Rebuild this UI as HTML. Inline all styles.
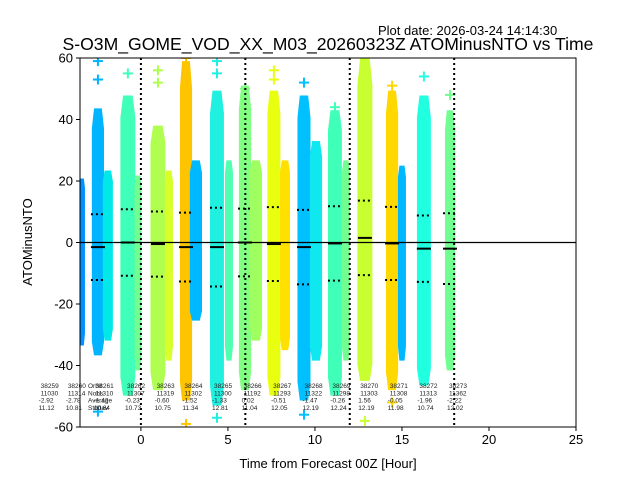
<!DOCTYPE html>
<html><head><meta charset="utf-8"><style>
body{margin:0;background:#fff}
svg{display:block;font-family:"Liberation Sans","DejaVu Sans",sans-serif}
</style></head><body>
<svg id="chart" width="640" height="480" viewBox="0 0 640 480" xmlns="http://www.w3.org/2000/svg">
<defs><clipPath id="plotclip"><rect x="80" y="58" width="496" height="369"/></clipPath></defs>
<rect x="0" y="0" width="640" height="480" fill="#fff"/>
<text x="378" y="35" font-size="13">Plot date: 2026-03-24 14:14:30</text>
<text x="328" y="50" font-size="17.6" text-anchor="middle">S-O3M_GOME_VOD_XX_M03_20260323Z ATOMinusNTO vs Time</text>
<g id="plot" clip-path="url(#plotclip)"></g>
<g id="axes"></g>
<text transform="translate(32,242) rotate(-90)" font-size="13" text-anchor="middle">ATOMinusNTO</text>
<text x="328" y="468" font-size="13" text-anchor="middle">Time from Forecast 00Z [Hour]</text>
</svg>
<script>
const colHour=[-3.39,-2.47,-1.9,-0.75,-0.17,0.98,1.61,2.59,3.16,4.37,5.06,5.98,6.61,7.64,8.28,9.37,10.06,11.15,11.78,12.87,14.43,15.0,16.26,17.76];
const colWidth=[0.35,0.7,0.58,0.86,0.4,0.86,0.46,0.7,0.7,0.8,0.46,0.7,0.7,0.75,0.58,0.75,0.7,0.8,0.46,0.86,0.7,0.46,0.8,0.58];
const colTop=[20.8,43.6,23.4,47.8,21.8,38,23.4,59,26.7,49.4,26.7,51,26.7,49.4,26.7,47.8,33,43,26.7,60,49.4,25,47.8,43];
const colBot=[-33.5,-36.7,-31.9,-49.8,-41.6,-48,-38.4,-51.4,-25.4,-53,-38.4,-48,-31.9,-49.8,-35,-51.4,-38.4,-49.8,-38.4,-45,-48,-38.4,-46.5,-41.6];
const colColor=["#0090ff","#00b4ff","#00e8e8","#40ffb8","#70ff90","#b0ff50","#d8ff28","#ffc400","#00b8ff","#20f0e0","#50ffb0","#80ff80","#a0ff60","#e8ff10","#ffe000","#00c0ff","#10e8f0","#40ffb8","#70ff90","#c8ff30","#ffd800","#00b8ff","#20ffe0","#70ff90"];
const statHour=[-2.47,-0.75,0.98,2.59,4.37,5.98,7.64,9.37,11.15,12.87,14.43,16.26,17.76];
const statMean=[-1.5,0,-0.5,-1.5,-1.5,0,-0.5,-1.5,-0.3,1.5,-0.3,-2,-2];
const statStd=[10.7,10.8,10.6,11.2,12.8,11,12,12.1,12.1,12.1,11.9,10.8,11.5];
const outHour=[-2.47,-2.47,-0.75,0.98,0.98,2.59,4.37,4.37,5.98,7.64,7.64,9.37,11.15,12.87,14.43,16.26,17.76,-2.47,2.59,9.37,14.43,12.87,4.37];
const outVal=[59,53,55,56,52,60,59,55,50,56,53,52,44,58,51,54,48,-55,-59,-56,-52,-58,-57];
const outCol=[1,1,3,5,5,7,9,9,11,13,13,15,17,19,20,22,23,1,7,15,20,19,9];
const orbitNames=["38259","38260","38261","38262","38263","38264","38265","38266","38267","38268","38269","38270","38271","38272","38273"];
const orbitNobs=["11030","11314","11310","11307","11319","11302","11300","11192","11293","11322","11298","11303","11308","11313","11362"];
const orbitAvg=["-2.92","-2.78","-1.42","-0.23","-0.60","-1.52","-1.33","0.02","-0.51","-1.47","-0.26","1.56","-0.05","-1.96","-2.22"];
const orbitStd=["11.12","10.81","10.64","10.73","10.75","11.34","12.81","11.04","12.05","12.19","12.24","12.19","11.98","10.74","12.02"];
const orbitHour=[-5.76,-4.2,-2.6,-0.8,0.9,2.5,4.2,5.9,7.6,9.4,11.0,12.6,14.3,16.0,17.7];
const xTicks=[0,5,10,15,20,25];
const yTicks=[-60,-40,-20,0,20,40,60];
const vLines=[0,6,12,18];
const X0=80,X1=576,Y0=58,Y1=427,XMIN=-3.5,XMAX=25,YMIN=-60,YMAX=60;
const xs=h=>X0+(h-XMIN)/(XMAX-XMIN)*(X1-X0);
const ys=v=>Y1-(v-YMIN)/(YMAX-YMIN)*(Y1-Y0);
const NS="http://www.w3.org/2000/svg";
function mk(t,a,p){const e=document.createElementNS(NS,t);for(const k in a)e.setAttribute(k,a[k]);p.appendChild(e);return e;}
const plot=document.getElementById('plot'),axes=document.getElementById('axes'),svg=document.getElementById('chart');
colHour.forEach((h,i)=>{
  const xl=xs(h-colWidth[i]/2),xr=xs(h+colWidth[i]/2),xc=xs(h),w=xr-xl;
  const nl=xc-w*0.32,nr=xc+w*0.32;
  const yt=ys(colTop[i]),yb=ys(colBot[i]);
  const ct=ys(colTop[i]*0.85),cb=ys(colBot[i]*0.88);
  const pts=[[nl,yt],[nr,yt],[xr,ct],[xr,cb],[nr,yb],[nl,yb],[xl,cb],[xl,ct]].map(p=>p.join(',')).join(' ');
  const r=mk('polygon',{points:pts,fill:colColor[i]},plot);
  
  
});
outHour.forEach((h,i)=>{
  const g=mk('g',{stroke:colColor[outCol[i]],'stroke-width':2},plot);
  
  
  const x=xs(h),y=ys(outVal[i]);
  mk('line',{x1:x-5,y1:y,x2:x+5,y2:y},g);mk('line',{x1:x,y1:y-5,x2:x,y2:y+5},g);
});
vLines.forEach(h=>{
  const l=mk('line',{x1:xs(h),y1:Y0,x2:xs(h),y2:Y1,stroke:'#000','stroke-width':2,'stroke-dasharray':'2,3'},plot);
  
  
});
const zl=mk('line',{x1:X0,y1:ys(0),x2:X1,y2:ys(0),stroke:'#000','stroke-width':1.2},plot);


statHour.forEach((h,i)=>{
  const x1=xs(h)-7,x2=xs(h)+7;
  const m=mk('line',{x1:x1,y1:ys(statMean[i]),x2:x2,y2:ys(statMean[i]),stroke:'#000','stroke-width':2},plot);
  
  
  [statMean[i]+statStd[i],statMean[i]-statStd[i]].forEach(v=>{
    const d=mk('line',{x1:x1,y1:ys(v),x2:x2,y2:ys(v),stroke:'#000','stroke-width':2,'stroke-dasharray':'2,3'},plot);
    
    
  });
});
orbitHour.forEach((h,i)=>{
  const t=mk('text',{x:xs(h),y:388,'font-size':6.5,fill:'#222'},svg);
  
  
  [orbitNames[i],orbitNobs[i],orbitAvg[i],orbitStd[i]].forEach((s,k)=>{
    const sp=mk('tspan',{x:xs(h)-(k>=2?2:0),dy:k?7.3:0},t);sp.textContent=s;
  });
});
const lab=mk('text',{x:88,y:388,'font-size':6.5,fill:'#222'},svg);


["Orbit","Nobs","Average","Stddev"].forEach((s,k)=>{const sp=mk('tspan',{x:88,dy:k?7.3:0},lab);sp.textContent=s;});
const fr=mk('rect',{x:X0,y:Y0,width:X1-X0,height:Y1-Y0,fill:'none',stroke:'#000','stroke-width':1},axes);


xTicks.forEach(v=>{
  const x=xs(v);mk('line',{x1:x,y1:Y1,x2:x,y2:Y1+4,stroke:'#000'},axes);
  const t=mk('text',{x:x,y:Y1+17,'font-size':13,'text-anchor':'middle'},axes);t.textContent=v;
  
  
});
yTicks.forEach(v=>{
  const y=ys(v);mk('line',{x1:X0-4,y1:y,x2:X0,y2:y,stroke:'#000'},axes);
  const t=mk('text',{x:X0-7,y:y+4.5,'font-size':13,'text-anchor':'end'},axes);t.textContent=v;
  
  
});
</script>
</body></html>
